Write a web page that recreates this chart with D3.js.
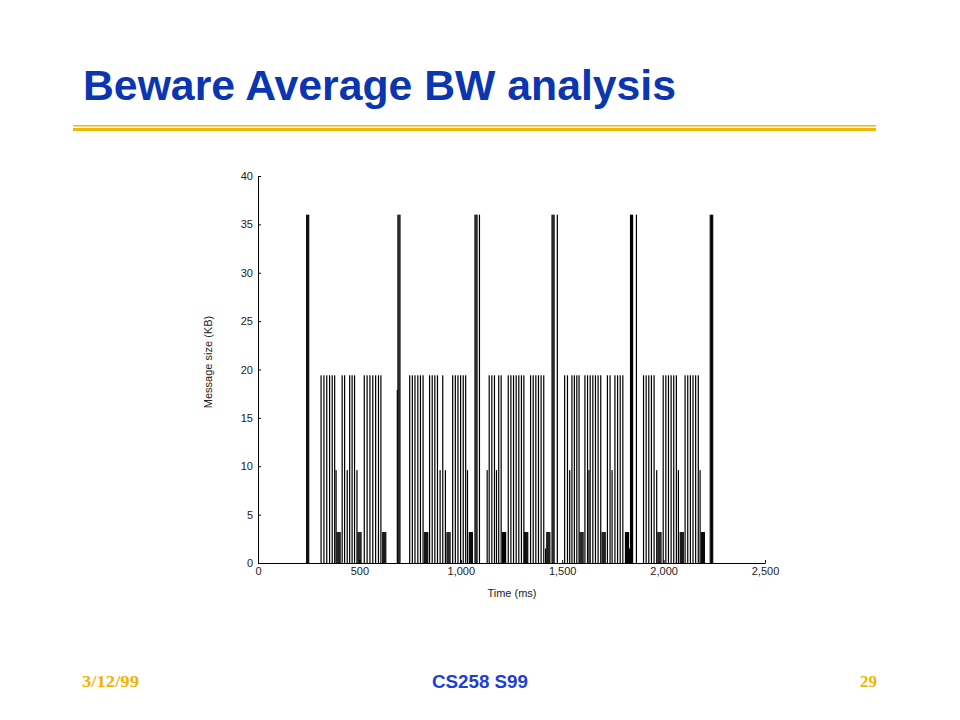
<!DOCTYPE html>
<html>
<head>
<meta charset="utf-8">
<script src="https://cdn.jsdelivr.net/npm/d3@7"></script>
<style>
  body { margin: 0; background: #fff; }
  svg { display: block; }
</style>
</head>
<body>
<svg width="960" height="720"></svg>
<script>
// message sizes (KB), times in ms
const bigTimes   = [240, 245, 250, 690, 695, 700, 1070, 1075, 1080, 1092,
                    1450, 1455, 1460, 1476, 1837, 1842, 1847, 1866, 2230, 2236, 2242];
const bigSize    = 36;
const halfTimes  = [687];
const halfSize   = 17.9;
const tallTimes  = [311, 325, 339, 353, 366, 378,
                    415, 427, 452, 464, 476,
                    524, 538, 552, 566, 580, 594, 606,
                    748, 761, 774, 788, 801, 814,
                    846, 859, 872, 885, 911,
                    960, 973, 986, 999, 1012, 1024,
                    1140, 1153, 1166, 1187, 1199,
                    1234, 1247, 1260, 1273, 1286, 1299, 1311,
                    1344, 1357, 1370, 1383, 1396, 1409,
                    1512, 1526, 1548, 1560, 1572, 1583,
                    1612, 1625, 1638, 1651, 1664, 1677, 1690,
                    1723, 1736, 1760, 1773, 1786, 1799,
                    1901, 1914, 1927, 1940, 1953,
                    1998, 2011, 2024, 2037, 2050, 2063,
                    2106, 2119, 2132, 2145, 2158, 2171];
const tallSize   = 19.4;
const midTimes   = [385, 440, 488, 898, 924, 1033, 1130, 1176,
                    1537, 1632, 1746, 1966, 2073, 2180];
const midSize    = 9.6;
const smallTimes = [390, 395, 400, 405, 493, 498, 503, 508, 615, 620, 625, 630,
                    822, 827, 832, 837, 932, 937, 942, 947, 1042, 1047, 1052, 1057,
                    1206, 1211, 1216, 1221, 1315, 1320, 1325, 1330, 1424, 1429, 1434, 1439,
                    1588, 1593, 1598, 1603, 1697, 1702, 1707, 1712, 1812, 1817, 1822, 1827,
                    1972, 1977, 1982, 1987, 2082, 2087, 2092, 2097, 2186, 2191, 2196, 2201];
const smallSize  = 3.2;
const tinyTimes  = [1418, 1832];
const tinySize   = 1.5;

const xTicks = [0, 500, 1000, 1500, 2000, 2500];
const yTicks = [0, 5, 10, 15, 20, 25, 30, 35, 40];

const messages = [
  ...bigTimes.map(t => ({ t: t, kb: bigSize })),
  ...halfTimes.map(t => ({ t: t, kb: halfSize })),
  ...tallTimes.map(t => ({ t: t, kb: tallSize })),
  ...midTimes.map(t => ({ t: t, kb: midSize })),
  ...smallTimes.map(t => ({ t: t, kb: smallSize })),
  ...tinyTimes.map(t => ({ t: t, kb: tinySize }))
];

const svg = d3.select("svg");
const font = "'Liberation Sans', Arial, sans-serif";
const serif = "'Liberation Serif', 'Times New Roman', serif";

// slide title + rule
svg.append("text")
    .attr("x", 83).attr("y", 100)
    .attr("font-family", font).attr("font-weight", "bold")
    .attr("font-size", 43)
    .attr("textLength", 593).attr("lengthAdjust", "spacingAndGlyphs")
    .attr("fill", "#0b36b0")
    .text("Beware Average BW analysis");

svg.append("rect").attr("x", 73).attr("y", 125).attr("width", 803).attr("height", 1.5).attr("fill", "#f0b80a");
svg.append("rect").attr("x", 73).attr("y", 128).attr("width", 803).attr("height", 3).attr("fill", "#f0b80a");

// chart
const xScale = d3.scaleLinear().domain([0, 2500]).range([258, 765]);
const yScale = d3.scaleLinear().domain([0, 40]).range([563, 176]);

svg.append("g")
    .selectAll("rect")
    .data(messages)
    .enter()
    .append("rect")
    .attr("x", d => xScale(d.t) - 0.6)
    .attr("width", 1.2)
    .attr("y", d => yScale(d.kb))
    .attr("height", d => yScale(0) - yScale(d.kb))
    .attr("fill", "#000");

const yAxis = svg.append("g")
    .attr("transform", "translate(258,0)")
    .call(d3.axisLeft(yScale).tickValues(yTicks).tickSizeInner(-3).tickSizeOuter(0).tickPadding(5));

const xAxis = svg.append("g")
    .attr("transform", "translate(0,563)")
    .call(d3.axisBottom(xScale).tickValues(xTicks).tickFormat(d3.format(",")).tickSizeInner(-3).tickSizeOuter(0).tickPadding(4));

[yAxis, xAxis].forEach(a => {
  a.selectAll("text").attr("font-family", font).attr("font-size", 11).attr("fill", "#222");
  a.selectAll("path, line").attr("stroke", "#000");
});

svg.append("text")
    .attr("transform", "translate(212,362) rotate(-90)")
    .attr("text-anchor", "middle")
    .attr("font-family", font).attr("font-size", 11).attr("fill", "#222")
    .text("Message size (KB)");

svg.append("text")
    .attr("x", 512).attr("y", 597)
    .attr("text-anchor", "middle")
    .attr("font-family", font).attr("font-size", 11).attr("fill", "#222")
    .text("Time (ms)");

// footer
svg.append("text")
    .attr("x", 82).attr("y", 687)
    .attr("font-family", serif).attr("font-weight", "bold")
    .attr("font-size", 17).attr("fill", "#f0b400")
    .attr("textLength", 57).attr("lengthAdjust", "spacingAndGlyphs")
    .text("3/12/99");

svg.append("text")
    .attr("x", 480).attr("y", 688)
    .attr("text-anchor", "middle")
    .attr("font-family", font).attr("font-weight", "bold")
    .attr("font-size", 18).attr("fill", "#1a40d8")
    .attr("textLength", 96).attr("lengthAdjust", "spacingAndGlyphs")
    .text("CS258 S99");

svg.append("text")
    .attr("x", 877).attr("y", 687)
    .attr("text-anchor", "end")
    .attr("font-family", serif).attr("font-weight", "bold")
    .attr("font-size", 17).attr("fill", "#f0b400")
    .text("29");
</script>
</body>
</html>
